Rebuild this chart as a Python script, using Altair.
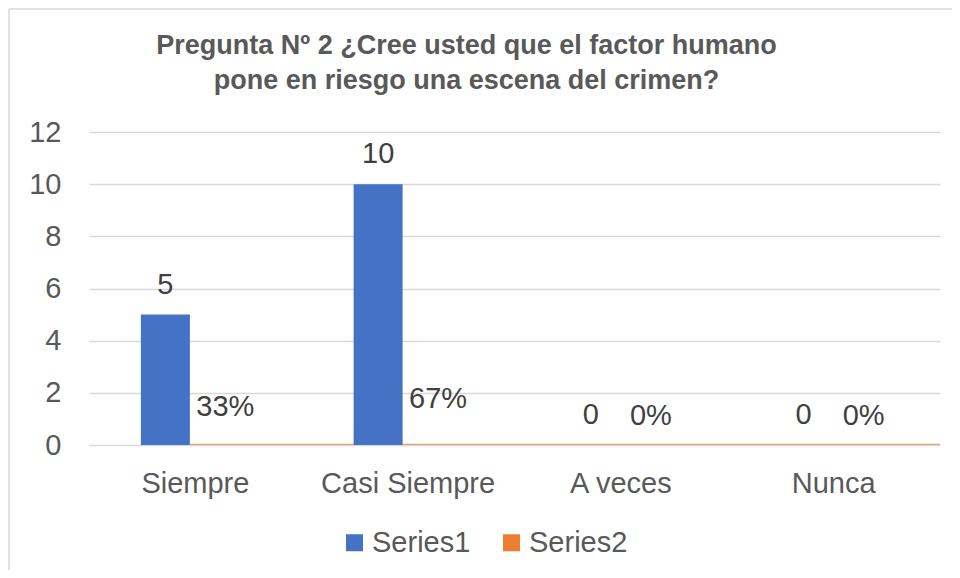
import altair as alt
import pandas as pd

categories = ["Siempre", "Casi Siempre", "A veces", "Nunca"]
series1 = [5, 10, 0, 0]
series2 = [0.33, 0.67, 0, 0]
series_names = ["Series1", "Series2"]
y_ticks = [0, 2, 4, 6, 8, 10, 12]
title_lines = ["Pregunta Nº 2 ¿Cree usted que el factor humano",
               "pone en riesgo una escena del crimen?"]

rows = []
for c, v in zip(categories, series1):
    rows.append({"cat": c, "series": "Series1", "value": v})
for c, v in zip(categories, series2):
    rows.append({"cat": c, "series": "Series2", "value": v})
df = pd.DataFrame(rows)

BLUE = "#4472C4"
ORANGE = "#ED7D31"
TEXT = "#595959"
GRID = "#D9D9D9"
FONT = "Liberation Sans"

W, H = 851, 313

x_axis = alt.Axis(title=None, labelAngle=0, labelFontSize=29,
                  labelColor=TEXT, labelFont=FONT, labelPadding=24,
                  domain=False, ticks=False, grid=False)
x_scale = alt.Scale(paddingInner=0, paddingOuter=0)
x_enc = alt.X("cat:N", sort=categories, scale=x_scale, axis=x_axis)

y_scale = alt.Scale(domain=[0, 12], nice=False)
y_axis = alt.Axis(title=None, values=y_ticks, labelFontSize=29,
                  labelColor=TEXT, labelFont=FONT, labelPadding=28,
                  domain=False, ticks=False, grid=True,
                  gridColor=GRID, gridWidth=1.5)
y_enc = alt.Y("value:Q", scale=y_scale, axis=y_axis)
color_scale = alt.Scale(domain=series_names, range=[BLUE, ORANGE])

base = alt.Chart(df)

frame_df = pd.DataFrame({"k": [0]})
frame_left = alt.Chart(frame_df).mark_rule(
    color=GRID, strokeWidth=1.5, clip=False
).encode(x=alt.value(-80), y=alt.value(-123), y2=alt.value(H + 200))
frame_top = alt.Chart(frame_df).mark_rule(
    color=GRID, strokeWidth=1.5, clip=False
).encode(x=alt.value(-80), x2=alt.value(W + 100), y=alt.value(-123))

s2_line = base.transform_filter(alt.datum.series == "Series2").mark_tick(
    size=213, thickness=2.5, xOffset=101, clip=True, color=ORANGE
).encode(
    x=x_enc,
    y=alt.Y(datum=0, scale=y_scale, axis=y_axis),
)

s1_bars = base.transform_filter(alt.datum.series == "Series1").mark_bar(
    width=49, xOffset=-30
).encode(
    x=x_enc,
    y=y_enc,
    color=alt.Color("series:N", scale=color_scale,
                    legend=alt.Legend(title=None, orient="none", direction="horizontal",
                                      legendX=251, legendY=396, padding=0,
                                      symbolType="square", symbolSize=289,
                                      symbolStrokeWidth=0, labelFontSize=29,
                                      labelColor=TEXT, labelFont=FONT,
                                      labelOffset=3, columnPadding=26)),
)

s1_labels = base.transform_filter(alt.datum.series == "Series1").mark_text(
    xOffset=-30, dy=-21, baseline="alphabetic", fontSize=29, font=FONT,
    color="#404040"
).encode(x=x_enc, y=y_enc, text=alt.Text("value:Q"))

s2_labels = base.transform_filter(alt.datum.series == "Series2").mark_text(
    xOffset=30, dy=-20, baseline="alphabetic", fontSize=29, font=FONT,
    color="#404040"
).encode(x=x_enc, y=y_enc, text=alt.Text("value:Q", format=".0%"))

chart = alt.layer(frame_left, frame_top, s2_line, s1_bars, s1_labels, s2_labels).properties(
    width=W, height=H,
    background="white",
    title=alt.TitleParams(text=title_lines, fontSize=27, font=FONT, fontWeight="bold",
                          color=TEXT, anchor="middle", dx=-48, offset=-87,
                          lineHeight=35),
    autosize=alt.AutoSizeParams(type="none"),
    padding={"left": 81, "top": 124, "right": 12, "bottom": 125},
).configure_view(stroke=None, strokeWidth=0)

chart.save("out.html", embed_options={"renderer": "svg", "actions": False})
